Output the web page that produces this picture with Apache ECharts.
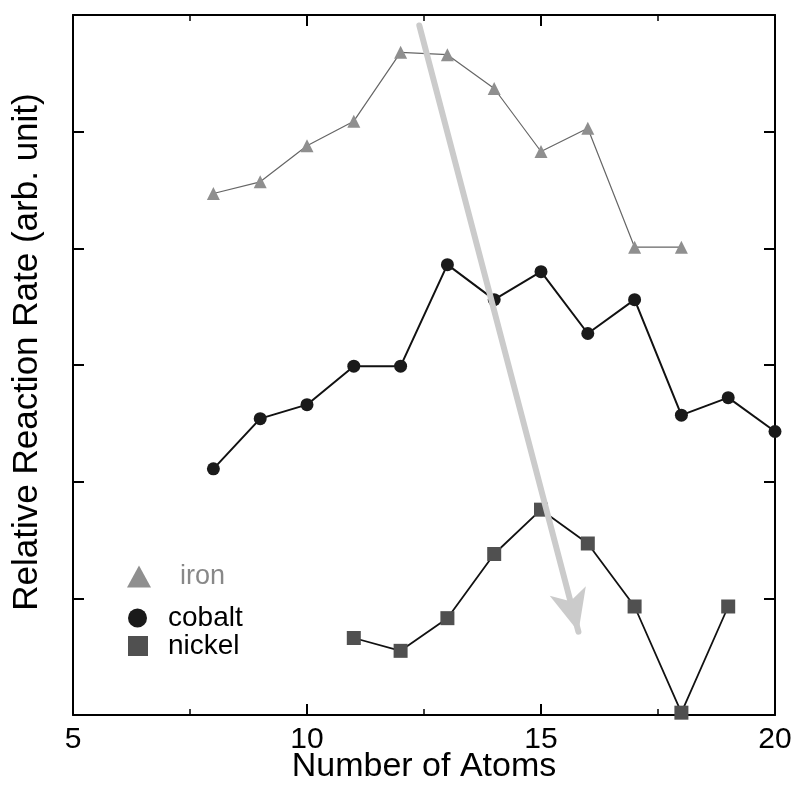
<!DOCTYPE html>
<html>
<head>
<meta charset="utf-8">
<script src="https://cdn.jsdelivr.net/npm/echarts@6/dist/echarts.min.js"></script>
<style>
html,body{margin:0;padding:0;background:#fff;}
#chart{width:796px;height:785px;}
</style>
</head>
<body>
<div id="chart"></div>
<script>
// Data
var ironX = [8, 9, 10, 11, 12, 13, 14, 15, 16, 17, 18];
var ironY = [4.47, 4.57, 4.88, 5.09, 5.68, 5.66, 5.37, 4.83, 5.03, 4.01, 4.01];
var cobaltX = [8, 9, 10, 11, 12, 13, 14, 15, 16, 17, 18, 19, 20];
var cobaltY = [2.11, 2.54, 2.66, 2.99, 2.99, 3.86, 3.56, 3.80, 3.27, 3.56, 2.57, 2.72, 2.43];
var nickelX = [11, 12, 13, 14, 15, 16, 17, 18, 19];
var nickelY = [0.66, 0.55, 0.83, 1.38, 1.76, 1.47, 0.93, 0.02, 0.93];
var arrowFrom = [12.4, 5.91];
var arrowTo = [15.80, 0.714];
var xTicks = [5, 10, 15, 20];
var seriesNames = ['iron', 'cobalt', 'nickel'];

function pairs(xs, ys) { return xs.map(function (x, i) { return [x, ys[i]]; }); }

var FONT = 'Liberation Sans, Arial, Helvetica, sans-serif';
var chart = echarts.init(document.getElementById('chart'), null, {renderer: 'canvas'});

function xAxisBase(pos, showLabel) {
  return {
    type: 'value', position: pos, min: xTicks[0], max: xTicks[xTicks.length - 1], interval: 5,
    axisLine: {show: true, onZero: false, lineStyle: {color: '#000', width: 2}},
    axisTick: {show: true, inside: true, length: 11, lineStyle: {color: '#000', width: 2}},
    minorTick: {show: true, splitNumber: 2, length: 6, lineStyle: {color: '#000', width: 1.5}},
    splitLine: {show: false},
    axisLabel: {show: showLabel, fontSize: 30, color: '#000', fontFamily: FONT, margin: 10}
  };
}
function yAxisBase(pos) {
  return {
    type: 'value', position: pos, min: 0, max: 6, interval: 1,
    axisLine: {show: true, onZero: false, lineStyle: {color: '#000', width: 2}},
    axisTick: {show: true, inside: true, length: 11, lineStyle: {color: '#000', width: 2}},
    splitLine: {show: false},
    axisLabel: {show: false}
  };
}

var xBottom = xAxisBase('bottom', true);
xBottom.name = 'Number of Atoms';
xBottom.nameLocation = 'middle';
xBottom.nameGap = 35;
xBottom.nameMoveOverlap = false;
xBottom.nameTextStyle = {fontSize: 34, color: '#000', fontFamily: FONT};
var xTop = xAxisBase('top', false);

var yLeft = yAxisBase('left');
yLeft.name = 'Relative Reaction Rate (arb. unit)';
yLeft.nameLocation = 'middle';
yLeft.nameRotate = 90;
yLeft.nameGap = 28;
yLeft.nameMoveOverlap = false;
yLeft.nameTextStyle = {fontSize: 35, color: '#000', fontFamily: FONT, padding: [0, 0, 0, 26]};
var yRight = yAxisBase('right');

var option = {
  animation: false,
  backgroundColor: '#fff',
  grid: {left: 73, right: 21, top: 15, bottom: 70, containLabel: false, outerBoundsMode: 'none'},
  xAxis: [xBottom, xTop],
  yAxis: [yLeft, yRight],
  legend: [
    {data: [{name: seriesNames[0], icon: 'triangle'}], left: 127, top: 563, padding: 0,
     itemWidth: 24, itemHeight: 22,
     textStyle: {fontSize: 27, color: '#888', fontFamily: FONT, padding: [0, 0, 0, 24]}},
    {data: [{name: seriesNames[1], icon: 'circle'}], left: 128, top: 604, padding: 0,
     itemWidth: 19, itemHeight: 19,
     textStyle: {fontSize: 28, color: '#000', fontFamily: FONT, padding: [0, 0, 0, 16]}},
    {data: [{name: seriesNames[2], icon: 'rect'}], left: 128, top: 632, padding: 0,
     itemWidth: 20, itemHeight: 20,
     textStyle: {fontSize: 28, color: '#000', fontFamily: FONT, padding: [0, 0, 0, 15]}}
  ],
  series: [
    {name: seriesNames[0], type: 'line', data: pairs(ironX, ironY), symbol: 'triangle', symbolSize: 13,
     itemStyle: {color: '#8f8f8f'}, lineStyle: {color: '#666', width: 1.2}, z: 2},
    {name: seriesNames[1], type: 'line', data: pairs(cobaltX, cobaltY), symbol: 'circle', symbolSize: 13,
     itemStyle: {color: '#1a1a1a'}, lineStyle: {color: '#111', width: 2}, z: 2},
    {name: seriesNames[2], type: 'line', data: pairs(nickelX, nickelY), symbol: 'rect', symbolSize: 14,
     itemStyle: {color: '#505050'}, lineStyle: {color: '#111', width: 1.8}, z: 2},
    {name: 'arrow', type: 'line', data: [], z: 5,
     markLine: {
       silent: true, animation: false,
       label: {show: false},
       symbol: ['none', 'arrow'],
       lineStyle: {color: '#cbcbcb', width: 6, type: 'solid', cap: 'round'},
       data: [[{coord: arrowFrom, symbol: 'none'}, {coord: arrowTo, symbol: 'arrow', symbolSize: [28, 42]}]]
     }}
  ]
};
chart.setOption(option);
</script>
</body>
</html>
